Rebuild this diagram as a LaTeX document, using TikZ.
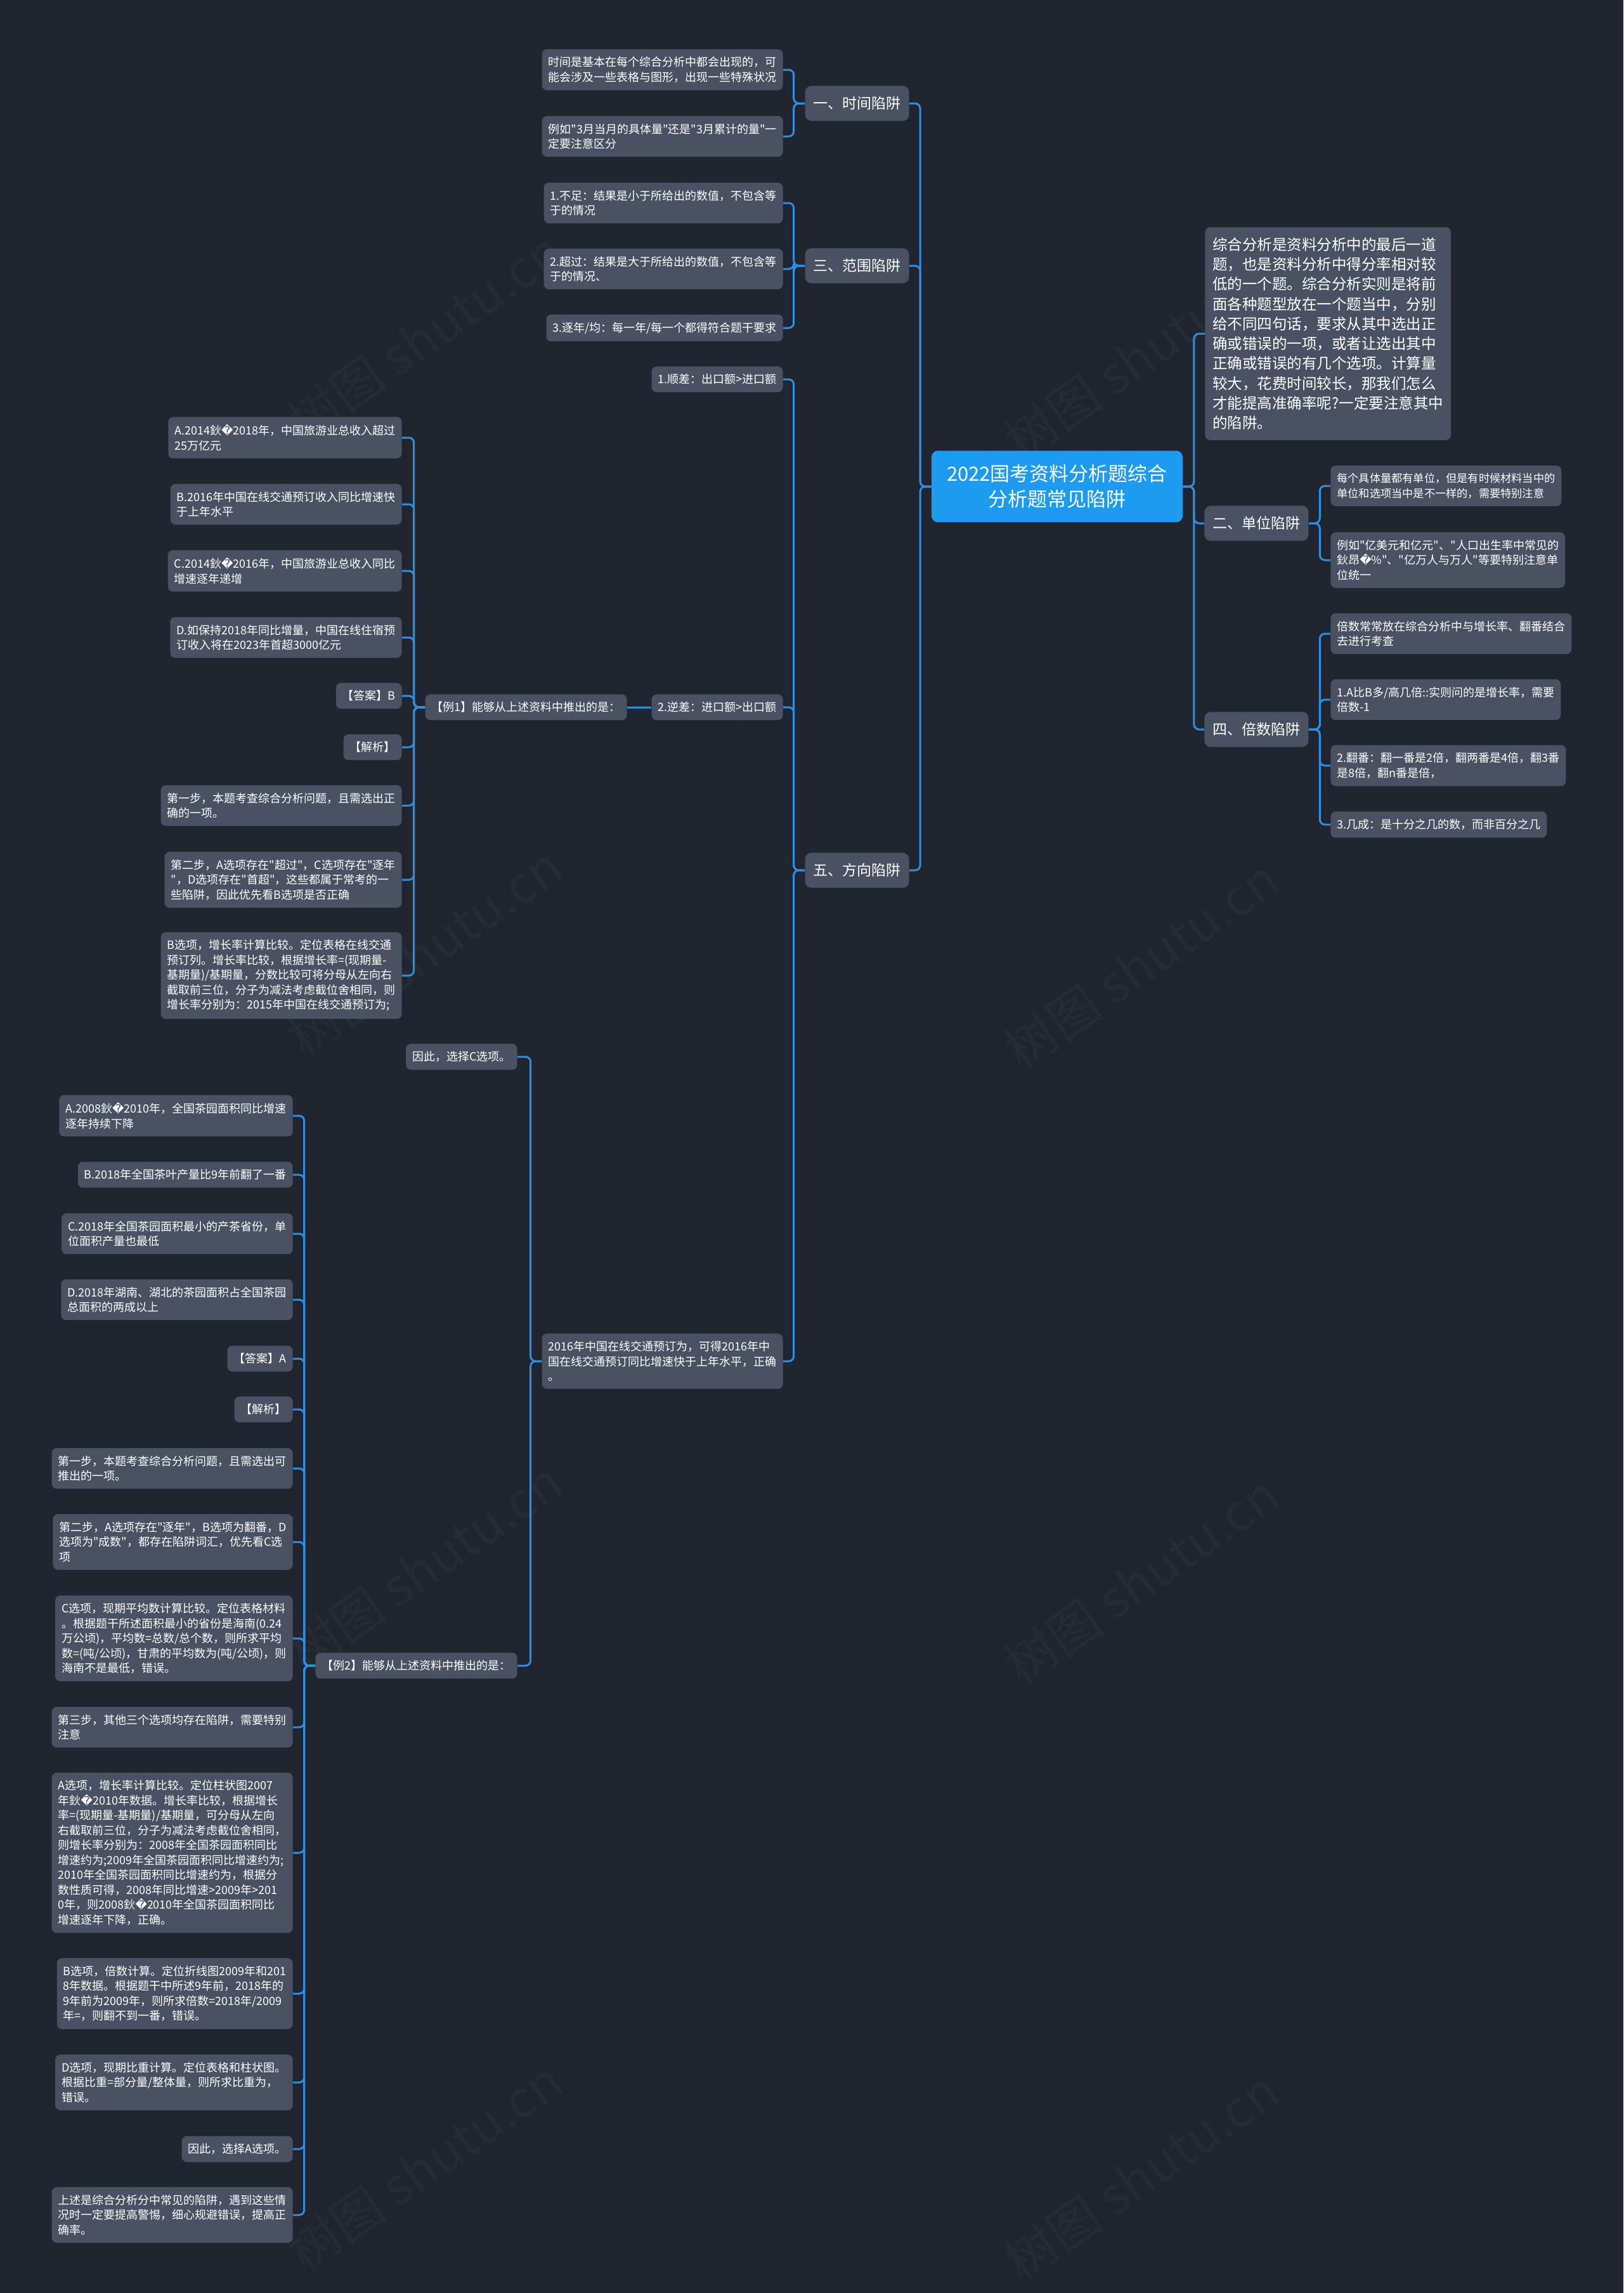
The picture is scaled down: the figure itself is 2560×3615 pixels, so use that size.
\documentclass[tikz,border=0pt]{standalone}
\usepackage{fontspec}
\setmainfont{Noto Sans CJK SC}[Ligatures=TeXOff]
\newfontfamily\repfont{DejaVu Sans}
\newcommand{\qm}{{\repfont\char"FFFD}}

\definecolor{bgcol}{HTML}{21252F}
\definecolor{boxcol}{HTML}{4A5163}
\definecolor{linkcol}{HTML}{2C8FE2}
\definecolor{rootcol}{HTML}{1C9BF0}

\begin{document}
\begin{tikzpicture}[x=0.5pt,y=-0.5pt,
  box/.style={fill=boxcol,text=white,rounded corners=4pt,inner xsep=5pt,inner ysep=6pt,align=left,font=\fontsize{9}{11.75}\selectfont},
  sect/.style={fill=boxcol,text=white,rounded corners=5pt,inner xsep=6.5pt,inner ysep=8.5pt,font=\fontsize{11.5}{14}\selectfont},
  rootbox/.style={fill=rootcol,text=white,rounded corners=5pt,align=center,minimum width=198pt,inner ysep=11pt,font=\fontsize{15.5}{20}\selectfont},
  introbox/.style={box,inner xsep=6pt,inner ysep=8pt,font=\fontsize{11.75}{15.65}\selectfont},
  wm/.style={text=white,text opacity=0.03,rotate=35,font=\fontsize{40}{40}\selectfont},
  link/.style={draw=linkcol,line width=1.5pt,rounded corners=4pt}]
\fill[bgcol] (0,0) rectangle (2560,3615);
\useasboundingbox (0,0) rectangle (2560,3615);

%watermarks
\node[wm] (wm1) at (670,530) {树图 shutu.cn};
\node[wm] (wm2) at (1800,560) {树图 shutu.cn};
\node[wm] (wm3) at (670,1500) {树图 shutu.cn};
\node[wm] (wm4) at (1800,1520) {树图 shutu.cn};
\node[wm] (wm5) at (670,2470) {树图 shutu.cn};
\node[wm] (wm6) at (1800,2490) {树图 shutu.cn};
\node[wm] (wm7) at (670,3415) {树图 shutu.cn};
\node[wm] (wm8) at (1800,3430) {树图 shutu.cn};

\node[rootbox] (root) at (1667,767) {2022国考资料分析题综合\\分析题常见陷阱};

%left side
\node[sect,anchor=east] (s1) at (1434,163) {一、时间陷阱};
\node[sect,anchor=east] (s3) at (1434,419) {三、范围陷阱};
\node[sect,anchor=east] (s5) at (1434,1372) {五、方向陷阱};

\node[box,anchor=east] (t1) at (1235,110) {时间是基本在每个综合分析中都会出现的，可\\能会涉及一些表格与图形，出现一些特殊状况};
\node[box,anchor=east] (t2) at (1235,215) {例如"3月当月的具体量"还是"3月累计的量"一\\定要注意区分};
\node[box,anchor=east] (r1) at (1235,320) {1.不足：结果是小于所给出的数值，不包含等\\于的情况};
\node[box,anchor=east] (r2) at (1235,424) {2.超过：结果是大于所给出的数值，不包含等\\于的情况、};
\node[box,anchor=east] (r3) at (1235,517) {3.逐年/均：每一年/每一个都得符合题干要求};
\node[box,anchor=east] (d1) at (1235,598) {1.顺差：出口额>进口额};
\node[box,anchor=east] (d2) at (1235,1115) {2.逆差：进口额>出口额};
\node[box,anchor=east] (d3) at (1235,2146) {2016年中国在线交通预订为，可得2016年中\\国在线交通预订同比增速快于上年水平，正确\\。};

\node[box,anchor=east] (e1) at (989,1115) {【例1】能够从上述资料中推出的是：};
\node[box,anchor=east] (a1) at (634,690) {A.2014鈥\qm2018年，中国旅游业总收入超过\\25万亿元};
\node[box,anchor=east] (b1) at (634,795) {B.2016年中国在线交通预订收入同比增速快\\于上年水平};
\node[box,anchor=east] (c1) at (634,900) {C.2014鈥\qm2016年，中国旅游业总收入同比\\增速逐年递增};
\node[box,anchor=east] (dd1) at (634,1005) {D.如保持2018年同比增量，中国在线住宿预\\订收入将在2023年首超3000亿元};
\node[box,anchor=east] (ans1) at (634,1097) {【答案】B};
\node[box,anchor=east] (jx1) at (634,1178) {【解析】};
\node[box,anchor=east] (st1) at (634,1270) {第一步，本题考查综合分析问题，且需选出正\\确的一项。};
\node[box,anchor=east] (st2) at (634,1387) {第二步，A选项存在"超过"，C选项存在"逐年\\"，D选项存在"首超"，这些都属于常考的一\\些陷阱，因此优先看B选项是否正确};
\node[box,anchor=east] (bo1) at (634,1538) {B选项，增长率计算比较。定位表格在线交通\\预订列。增长率比较，根据增长率=(现期量-\\基期量)/基期量，分数比较可将分母从左向右\\截取前三位，分子为减法考虑截位舍相同，则\\增长率分别为：2015年中国在线交通预订为;};

\node[box,anchor=east] (c3a) at (816,1666) {因此，选择C选项。};
\node[box,anchor=east] (e2) at (816,2626) {【例2】能够从上述资料中推出的是：};
\node[box,anchor=east] (a2) at (462,1759) {A.2008鈥\qm2010年，全国茶园面积同比增速\\逐年持续下降};
\node[box,anchor=east] (b2) at (462,1852) {B.2018年全国茶叶产量比9年前翻了一番};
\node[box,anchor=east] (c2) at (462,1945) {C.2018年全国茶园面积最小的产茶省份，单\\位面积产量也最低};
\node[box,anchor=east] (dd2) at (462,2049) {D.2018年湖南、湖北的茶园面积占全国茶园\\总面积的两成以上};
\node[box,anchor=east] (ans2) at (462,2142) {【答案】A};
\node[box,anchor=east] (jx2) at (462,2222) {【解析】};
\node[box,anchor=east] (st21) at (462,2315) {第一步，本题考查综合分析问题，且需选出可\\推出的一项。};
\node[box,anchor=east] (st22) at (462,2431) {第二步，A选项存在"逐年"，B选项为翻番，D\\选项为"成数"，都存在陷阱词汇，优先看C选\\项};
\node[box,anchor=east] (co2) at (462,2583) {C选项，现期平均数计算比较。定位表格材料\\。根据题干所述面积最小的省份是海南(0.24\\万公顷)，平均数=总数/总个数，则所求平均\\数=(吨/公顷)，甘肃的平均数为(吨/公顷)，则\\海南不是最低，错误。};
\node[box,anchor=east] (st23) at (462,2723) {第三步，其他三个选项均存在陷阱，需要特别\\注意};
\node[box,anchor=east] (ao2) at (462,2921) {A选项，增长率计算比较。定位柱状图2007\\年鈥\qm2010年数据。增长率比较，根据增长\\率=(现期量-基期量)/基期量，可分母从左向\\右截取前三位，分子为减法考虑截位舍相同，\\则增长率分别为：2008年全国茶园面积同比\\增速约为;2009年全国茶园面积同比增速约为;\\2010年全国茶园面积同比增速约为，根据分\\数性质可得，2008年同比增速>2009年>201\\0年，则2008鈥\qm2010年全国茶园面积同比\\增速逐年下降，正确。};
\node[box,anchor=east] (bo2) at (462,3143) {B选项，倍数计算。定位折线图2009年和201\\8年数据。根据题干中所述9年前，2018年的\\9年前为2009年，则所求倍数=2018年/2009\\年=，则翻不到一番，错误。};
\node[box,anchor=east] (do2) at (462,3283) {D选项，现期比重计算。定位表格和柱状图。\\根据比重=部分量/整体量，则所求比重为，\\错误。};
\node[box,anchor=east] (ys2) at (462,3388) {因此，选择A选项。};
\node[box,anchor=east] (sum) at (462,3492) {上述是综合分析分中常见的陷阱，遇到这些情\\况时一定要提高警惕，细心规避错误，提高正\\确率。};

%right side
\node[introbox,anchor=west] (intro) at (1900,526) {综合分析是资料分析中的最后一道\\题，也是资料分析中得分率相对较\\低的一个题。综合分析实则是将前\\面各种题型放在一个题当中，分别\\给不同四句话，要求从其中选出正\\确或错误的一项，或者让选出其中\\正确或错误的有几个选项。计算量\\较大，花费时间较长，那我们怎么\\才能提高准确率呢?一定要注意其中\\的陷阱。};
\node[sect,anchor=west] (s2) at (1899,825) {二、单位陷阱};
\node[sect,anchor=west] (s4) at (1899,1150) {四、倍数陷阱};
\node[box,anchor=west,font=\fontsize{8.6}{11.75}\selectfont] (u1) at (2098,766) {每个具体量都有单位，但是有时候材料当中的\\单位和选项当中是不一样的，需要特别注意};
\node[box,anchor=west] (u2) at (2098,883) {例如"亿美元和亿元"、"人口出生率中常见的\\鈥昂\qm\%"、"亿万人与万人"等要特别注意单\\位统一};
\node[box,anchor=west] (m1) at (2098,999) {倍数常常放在综合分析中与增长率、翻番结合\\去进行考查};
\node[box,anchor=west] (m2) at (2098,1103) {1.A比B多/高几倍::实则问的是增长率，需要\\倍数-1};
\node[box,anchor=west] (m3) at (2098,1207) {2.翻番：翻一番是2倍，翻两番是4倍，翻3番\\是8倍，翻n番是倍，};
\node[box,anchor=west] (m4) at (2098,1300) {3.几成：是十分之几的数，而非百分之几};

%links
\draw[link] (root.west) -- ++(-17.5,0) |- (s1.east);
\draw[link] (root.west) -- ++(-17.5,0) |- (s3.east);
\draw[link] (root.west) -- ++(-17.5,0) |- (s5.east);
\draw[link] (root.east) -- ++(17.5,0) |- (intro.west);
\draw[link] (root.east) -- ++(17.5,0) |- (s2.west);
\draw[link] (root.east) -- ++(17.5,0) |- (s4.west);

\draw[link] (s1.west) -- ++(-17.5,0) |- (t1.east);
\draw[link] (s1.west) -- ++(-17.5,0) |- (t2.east);
\draw[link] (s3.west) -- ++(-17.5,0) |- (r1.east);
\draw[link] (s3.west) -- ++(-17.5,0) |- (r2.east);
\draw[link] (s3.west) -- ++(-17.5,0) |- (r3.east);
\draw[link] (s5.west) -- ++(-17.5,0) |- (d1.east);
\draw[link] (s5.west) -- ++(-17.5,0) |- (d2.east);
\draw[link] (s5.west) -- ++(-17.5,0) |- (d3.east);

\draw[link] (d2.west) -- (e1.east);
\draw[link] (e1.west) -- ++(-17.5,0) |- (a1.east);
\draw[link] (e1.west) -- ++(-17.5,0) |- (b1.east);
\draw[link] (e1.west) -- ++(-17.5,0) |- (c1.east);
\draw[link] (e1.west) -- ++(-17.5,0) |- (dd1.east);
\draw[link] (e1.west) -- ++(-17.5,0) |- (ans1.east);
\draw[link] (e1.west) -- ++(-17.5,0) |- (jx1.east);
\draw[link] (e1.west) -- ++(-17.5,0) |- (st1.east);
\draw[link] (e1.west) -- ++(-17.5,0) |- (st2.east);
\draw[link] (e1.west) -- ++(-17.5,0) |- (bo1.east);

\draw[link] (d3.west) -- ++(-17.5,0) |- (c3a.east);
\draw[link] (d3.west) -- ++(-17.5,0) |- (e2.east);
\draw[link] (e2.west) -- ++(-17.5,0) |- (a2.east);
\draw[link] (e2.west) -- ++(-17.5,0) |- (b2.east);
\draw[link] (e2.west) -- ++(-17.5,0) |- (c2.east);
\draw[link] (e2.west) -- ++(-17.5,0) |- (dd2.east);
\draw[link] (e2.west) -- ++(-17.5,0) |- (ans2.east);
\draw[link] (e2.west) -- ++(-17.5,0) |- (jx2.east);
\draw[link] (e2.west) -- ++(-17.5,0) |- (st21.east);
\draw[link] (e2.west) -- ++(-17.5,0) |- (st22.east);
\draw[link] (e2.west) -- ++(-17.5,0) |- (co2.east);
\draw[link] (e2.west) -- ++(-17.5,0) |- (st23.east);
\draw[link] (e2.west) -- ++(-17.5,0) |- (ao2.east);
\draw[link] (e2.west) -- ++(-17.5,0) |- (bo2.east);
\draw[link] (e2.west) -- ++(-17.5,0) |- (do2.east);
\draw[link] (e2.west) -- ++(-17.5,0) |- (ys2.east);
\draw[link] (e2.west) -- ++(-17.5,0) |- (sum.east);

\draw[link] (s2.east) -- ++(17.5,0) |- (u1.west);
\draw[link] (s2.east) -- ++(17.5,0) |- (u2.west);
\draw[link] (s4.east) -- ++(17.5,0) |- (m1.west);
\draw[link] (s4.east) -- ++(17.5,0) |- (m2.west);
\draw[link] (s4.east) -- ++(17.5,0) |- (m3.west);
\draw[link] (s4.east) -- ++(17.5,0) |- (m4.west);
\end{tikzpicture}
\end{document}
